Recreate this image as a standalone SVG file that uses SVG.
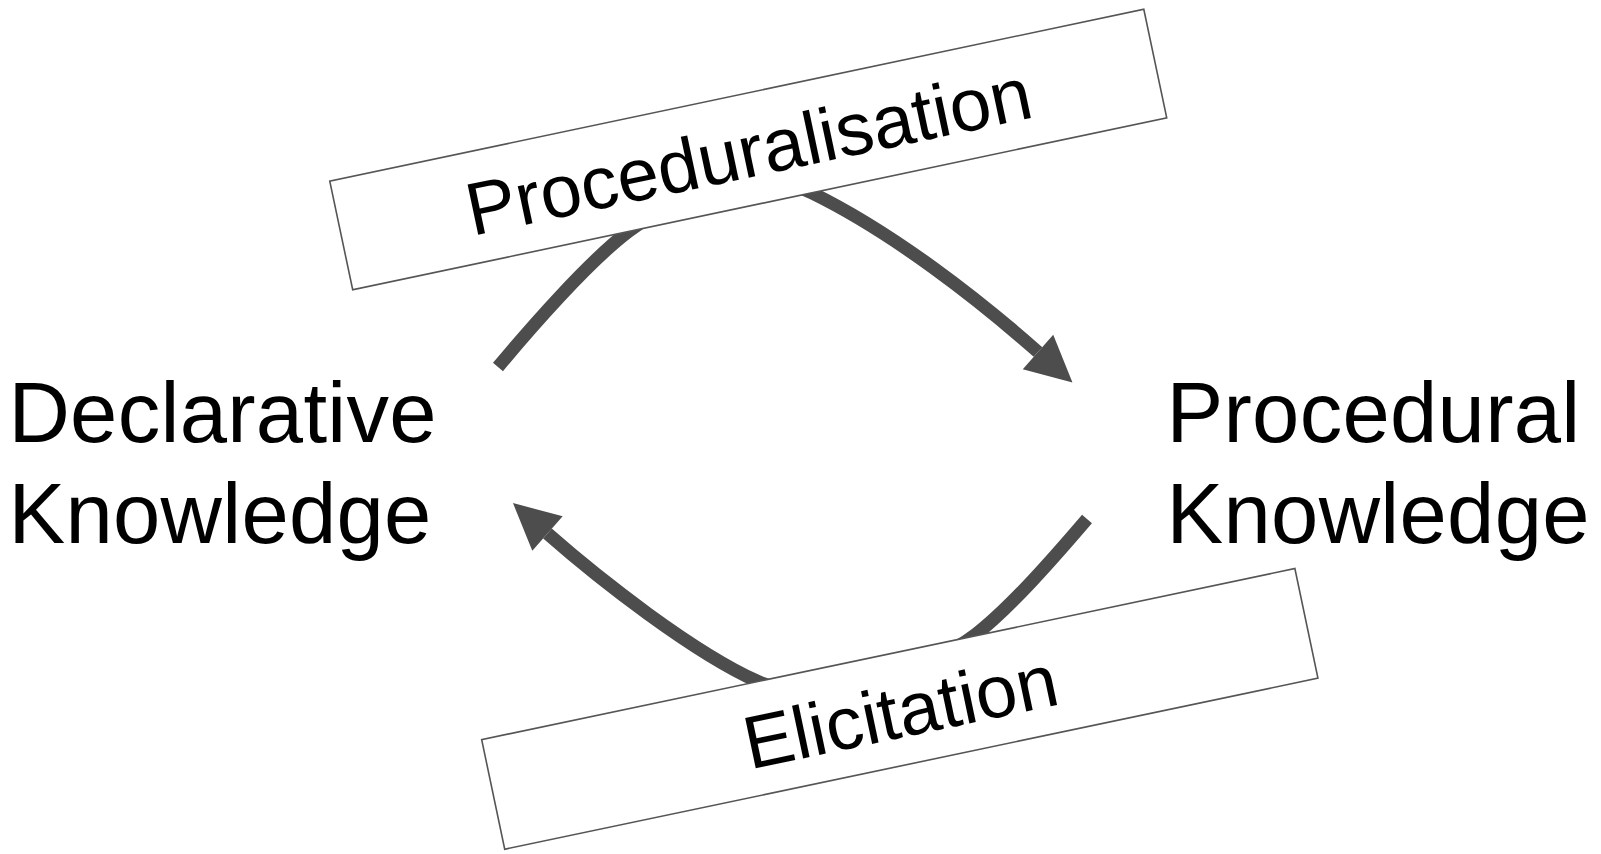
<svg xmlns="http://www.w3.org/2000/svg" width="1601" height="854" viewBox="0 0 1601 854">
  <style>
    .main { font-family: "Liberation Sans", Arial, Helvetica, sans-serif; font-size: 85px; letter-spacing: 0.3px; fill: #000; }
    .lbl { font-family: "Liberation Sans", Arial, Helvetica, sans-serif; font-size: 74.5px; fill: #000; text-anchor: middle; }
    .box { fill: #fff; stroke: #555; stroke-width: 1.6; }
    .flow { fill: none; stroke: #4d4d4d; stroke-width: 13; stroke-linecap: butt; }
  </style>
  <defs>
    <marker id="head" markerUnits="userSpaceOnUse" viewBox="-1 -25 50 50" refX="0" refY="0" markerWidth="50" markerHeight="50" orient="auto">
      <path d="M0,-23 L46,0 L0,23 Z" fill="#4d4d4d"/>
    </marker>
  </defs>

  <!-- curved transitions between the two kinds of knowledge; the middle of each arc runs under its label box -->
  <g id="connectors">
    <path class="flow" marker-end="url(#head)"
          d="M498,367 C530,328.5 589,261 629,231 C677,195 758,166.6 812,193 C893,232.6 978,299 1038,352"/>
    <path class="flow" marker-end="url(#head)"
          d="M1087,519 C1054.5,557 1010.5,607.5 975,635 C927.6,671.6 812.6,706.1 758,681.5 C694,653 600,579.7 547.5,533.5"/>
  </g>

  <g id="proceduralisation" transform="translate(748.25,149.5) rotate(-11.93)">
    <rect class="box" x="-416" y="-55.5" width="832" height="111"/>
    <text class="lbl" x="0" y="27.6">Proceduralisation</text>
  </g>

  <g id="elicitation" transform="translate(899.8,708.9) rotate(-11.88)">
    <rect class="box" x="-415.5" y="-56" width="831" height="112"/>
    <text class="lbl" x="0" y="28.5">Elicitation</text>
  </g>

  <g id="declarative">
    <text class="main" x="8.4" y="441.7">Declarative</text>
    <text class="main" x="8.4" y="543">Knowledge</text>
  </g>

  <g id="procedural">
    <text class="main" x="1166.5" y="441.7">Procedural</text>
    <text class="main" x="1166.5" y="543">Knowledge</text>
  </g>
</svg>
